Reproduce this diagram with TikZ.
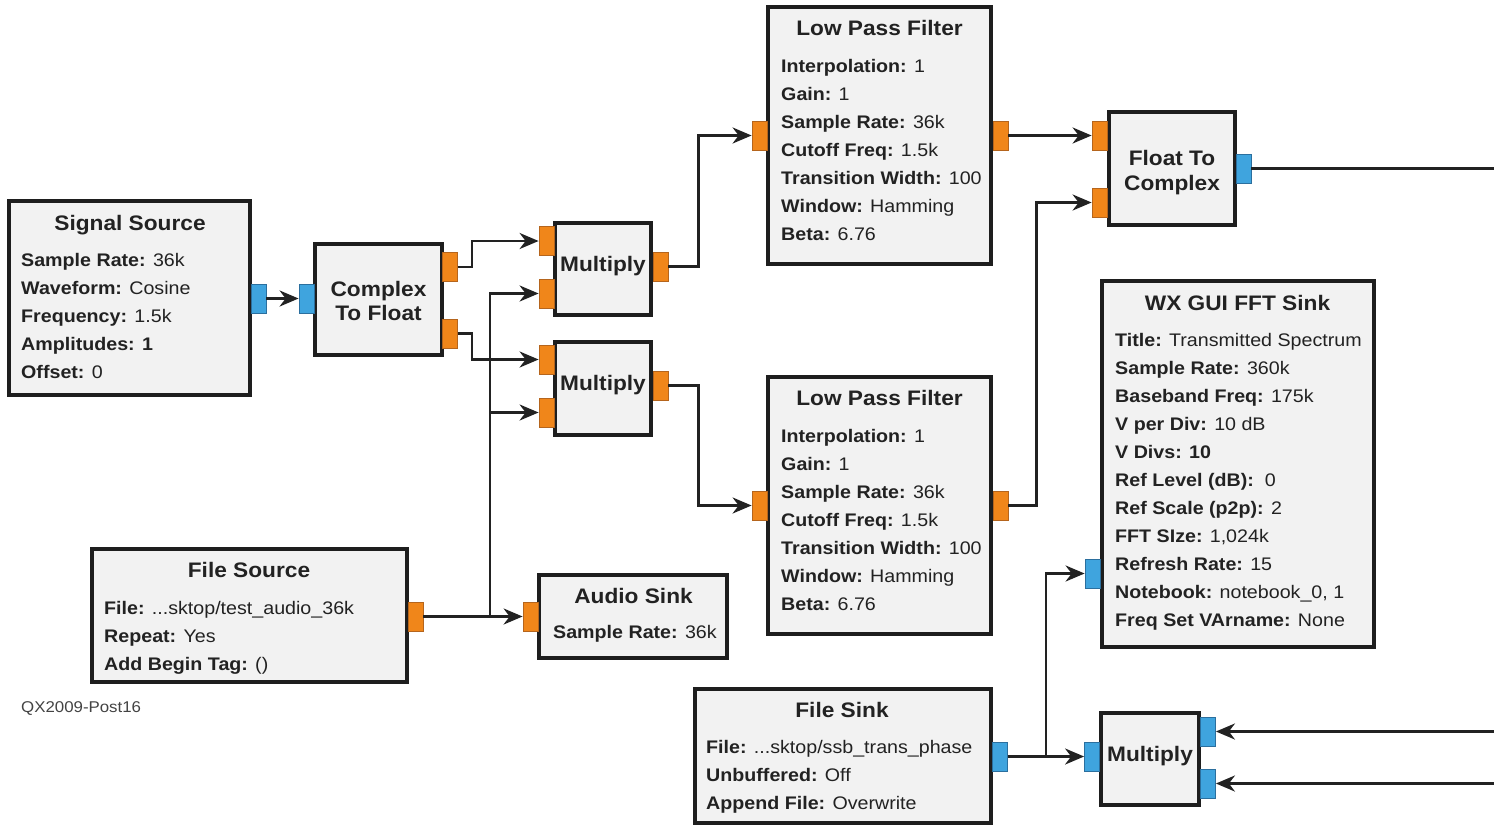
\documentclass[tikz,border=0pt]{standalone}
\usepackage{fontspec}
\setmainfont{Liberation Sans}[FakeStretch=1.08]
\usetikzlibrary{arrows.meta,fit}

\definecolor{ink}{HTML}{222222}
\definecolor{boxfill}{HTML}{F2F2F2}
\definecolor{boxline}{HTML}{1E1E1E}
\definecolor{orangeport}{HTML}{F0861A}
\definecolor{orangeedge}{HTML}{B5651D}
\definecolor{blueport}{HTML}{3FA4DE}
\definecolor{blueedge}{HTML}{2B6F9E}

\newcommand\blkTitleFont{\fontsize{21bp}{25bp}\selectfont\bfseries}
\newcommand\blkRowFont{\fontsize{18.2bp}{22bp}\selectfont}

\tikzset{
  blk/.style={draw=boxline, line width=4bp, fill=boxfill, inner sep=0pt},
  ttl/.style={font=\blkTitleFont, text=ink, inner sep=0pt, text height=15bp, text depth=0pt},
  prow/.style={font=\blkRowFont, text=ink, anchor=west, inner sep=0pt, text height=13bp, text depth=0pt},
  portbase/.style={line width=0.8bp, minimum width=15bp, minimum height=29bp, inner sep=0pt},
  fport/.style={portbase, fill=orangeport, draw=orangeedge},
  cport/.style={portbase, fill=blueport, draw=blueedge},
  wire/.style={draw=ink, line width=2.6bp},
  flow/.style={wire, -{Stealth[length=19bp,width=16bp,inset=6bp]}},
  credit/.style={font=\fontsize{15.6bp}{18bp}\selectfont, text=ink!85, anchor=west, inner sep=0pt, text height=11bp, text depth=0pt}
}

% parameter rows of a block: name prefix, left x, y of first row, rows
\newcommand\paramrows[4]{%
  \foreach \txt [count=\k] in {#4} {
    \node[prow] (#1-r\k) at (#2,{#3+28*(\k-1)}) {\txt};
  }%
}

\begin{document}
\begin{tikzpicture}[x=1bp,y=-1bp]
\useasboundingbox (0,0) rectangle (1494,826);

% ---------- Signal Source ----------
\node[blk, fit={(9,201) (250,395)}] (sigsrc) {};
\node[ttl] (sigsrc-t) at (130,223) {Signal Source};
\paramrows{sigsrc}{21}{260}{{\textbf{Sample Rate:} 36k},{\textbf{Waveform:} Cosine},{\textbf{Frequency:} 1.5k},{\textbf{Amplitudes: 1}},{\textbf{Offset:} 0}}
\node[cport] (sigsrc-o) at (258.5,298.5) {};

% ---------- Complex To Float ----------
\node[blk, fit={(315,244) (442,355)}] (ctf) {};
\node[ttl] (ctf-t1) at (378.5,289) {Complex};
\node[ttl] (ctf-t2) at (378.5,313) {To Float};
\node[cport] (ctf-i) at (306.5,298.5) {};
\node[fport] (ctf-o1) at (450,267) {};
\node[fport] (ctf-o2) at (450,333.5) {};

% ---------- Multiply (upper) ----------
\node[blk, fit={(555,223) (651,315)}] (m1) {};
\node[ttl] (m1-t) at (603,263.5) {Multiply};
\node[fport] (m1-i1) at (546.5,241) {};
\node[fport] (m1-i2) at (546.5,293.5) {};
\node[fport] (m1-o) at (660.5,266.5) {};

% ---------- Multiply (lower) ----------
\node[blk, fit={(555,342) (651,435)}] (m2) {};
\node[ttl] (m2-t) at (603,383) {Multiply};
\node[fport] (m2-i1) at (546.5,359.5) {};
\node[fport] (m2-i2) at (546.5,412.5) {};
\node[fport] (m2-o) at (660.5,385.5) {};

% ---------- Low Pass Filter (upper) ----------
\node[blk, fit={(768,7) (991,264)}] (lpf1) {};
\node[ttl] (lpf1-t) at (879.5,28) {Low Pass Filter};
\paramrows{lpf1}{781}{65.5}{{\textbf{Interpolation:} 1},{\textbf{Gain:} 1},{\textbf{Sample Rate:} 36k},{\textbf{Cutoff Freq:} 1.5k},{\textbf{Transition Width:} 100},{\textbf{Window:} Hamming},{\textbf{Beta:} 6.76}}
\node[fport] (lpf1-i) at (759.5,135.5) {};
\node[fport] (lpf1-o) at (1000.5,135.5) {};

% ---------- Low Pass Filter (lower) ----------
\node[blk, fit={(768,377) (991,634)}] (lpf2) {};
\node[ttl] (lpf2-t) at (879.5,398) {Low Pass Filter};
\paramrows{lpf2}{781}{435.5}{{\textbf{Interpolation:} 1},{\textbf{Gain:} 1},{\textbf{Sample Rate:} 36k},{\textbf{Cutoff Freq:} 1.5k},{\textbf{Transition Width:} 100},{\textbf{Window:} Hamming},{\textbf{Beta:} 6.76}}
\node[fport] (lpf2-i) at (759.5,505.5) {};
\node[fport] (lpf2-o) at (1000.5,505.5) {};

% ---------- Float To Complex ----------
\node[blk, fit={(1109,112) (1235,225)}] (ftc) {};
\node[ttl] (ftc-t1) at (1172,158) {Float To};
\node[ttl] (ftc-t2) at (1172,182.5) {Complex};
\node[fport] (ftc-i1) at (1099.5,135.5) {};
\node[fport] (ftc-i2) at (1099.5,202.5) {};
\node[cport] (ftc-o) at (1243.5,168.5) {};

% ---------- File Source ----------
\node[blk, fit={(92,549) (407,682)}] (fs) {};
\node[ttl] (fs-t) at (249,570) {File Source};
\paramrows{fs}{104}{607.5}{{\textbf{File:} {.}{.}{.}sktop/test\_audio\_36k},{\textbf{Repeat:} Yes},{\textbf{Add Begin Tag:} ()}}
\node[fport] (fs-o) at (415.5,616.5) {};
\node[credit] (fig-id) at (21,706.5) {QX2009-Post16};

% ---------- Audio Sink ----------
\node[blk, fit={(539,575) (727,658)}] (as) {};
\node[ttl] (as-t) at (633.5,595.5) {Audio Sink};
\paramrows{as}{553}{632}{{\textbf{Sample Rate:} 36k}}
\node[fport] (as-i) at (530.5,616.5) {};

% ---------- File Sink ----------
\node[blk, fit={(695,689) (991,823)}] (fsk) {};
\node[ttl] (fsk-t) at (842,709.5) {File Sink};
\paramrows{fsk}{706}{746.5}{{\textbf{File:} {.}{.}{.}sktop/ssb\_trans\_phase},{\textbf{Unbuffered:} Off},{\textbf{Append File:} Overwrite}}
\node[cport] (fsk-o) at (1000,756.5) {};

% ---------- WX GUI FFT Sink ----------
\node[blk, fit={(1102,281) (1374,647)}] (fft) {};
\node[ttl] (fft-t) at (1237.5,302.5) {WX GUI FFT Sink};
\paramrows{fft}{1115}{340}{{\textbf{Title:} Transmitted Spectrum},{\textbf{Sample Rate:} 360k},{\textbf{Baseband Freq:} 175k},{\textbf{V per Div:} 10 dB},{\textbf{V Divs: 10}},{\textbf{Ref Level (dB):}\ \ 0},{\textbf{Ref Scale (p2p):} 2},{\textbf{FFT SIze:} 1,024k},{\textbf{Refresh Rate:} 15},{\textbf{Notebook:} notebook\_0, 1},{\textbf{Freq Set VArname:} None}}
\node[cport] (fft-i) at (1092.5,573.5) {};

% ---------- Multiply (bottom right) ----------
\node[blk, fit={(1101,713) (1199,805)}] (m3) {};
\node[ttl] (m3-t) at (1150,753.5) {Multiply};
\node[cport] (m3-i) at (1092,756.5) {};
\node[cport] (m3-o1) at (1208,731.5) {};
\node[cport] (m3-o2) at (1208,783.5) {};

% ---------- connections ----------
\draw[flow] (sigsrc-o) -- (ctf-i);
\draw[flow] (ctf-o1.east) -- ++(14,0) |- (m1-i1.west);
\draw[flow] (ctf-o2.east) -- ++(14,0) |- (m2-i1.west);

\coordinate (fsj) at (490,616.5);
\draw[flow] (fs-o) -- (as-i);
\draw[flow] (fsj) |- (m1-i2.west);
\draw[flow] (fsj |- m2-i2.west) -- (m2-i2.west);

\draw[flow] (m1-o.east) -- ++(30,0) |- (lpf1-i.west);
\draw[flow] (m2-o.east) -- ++(30,0) |- (lpf2-i.west);
\draw[flow] (lpf1-o) -- (ftc-i1);
\draw[flow] (lpf2-o.east) -- ++(28,0) |- (ftc-i2.west);

\coordinate (ftc-end) at (1494,168.5);
\draw[wire] (ftc-o.east) -- (ftc-end);

\coordinate (fskj) at (1046,756.5);
\draw[flow] (fsk-o) -- (m3-i);
\draw[flow] (fskj) |- (fft-i.west);

\coordinate (in-a) at (1494,731.5);
\coordinate (in-b) at (1494,783.5);
\draw[flow] (in-a) -- (m3-o1.east);
\draw[flow] (in-b) -- (m3-o2.east);
\end{tikzpicture}
\end{document}
